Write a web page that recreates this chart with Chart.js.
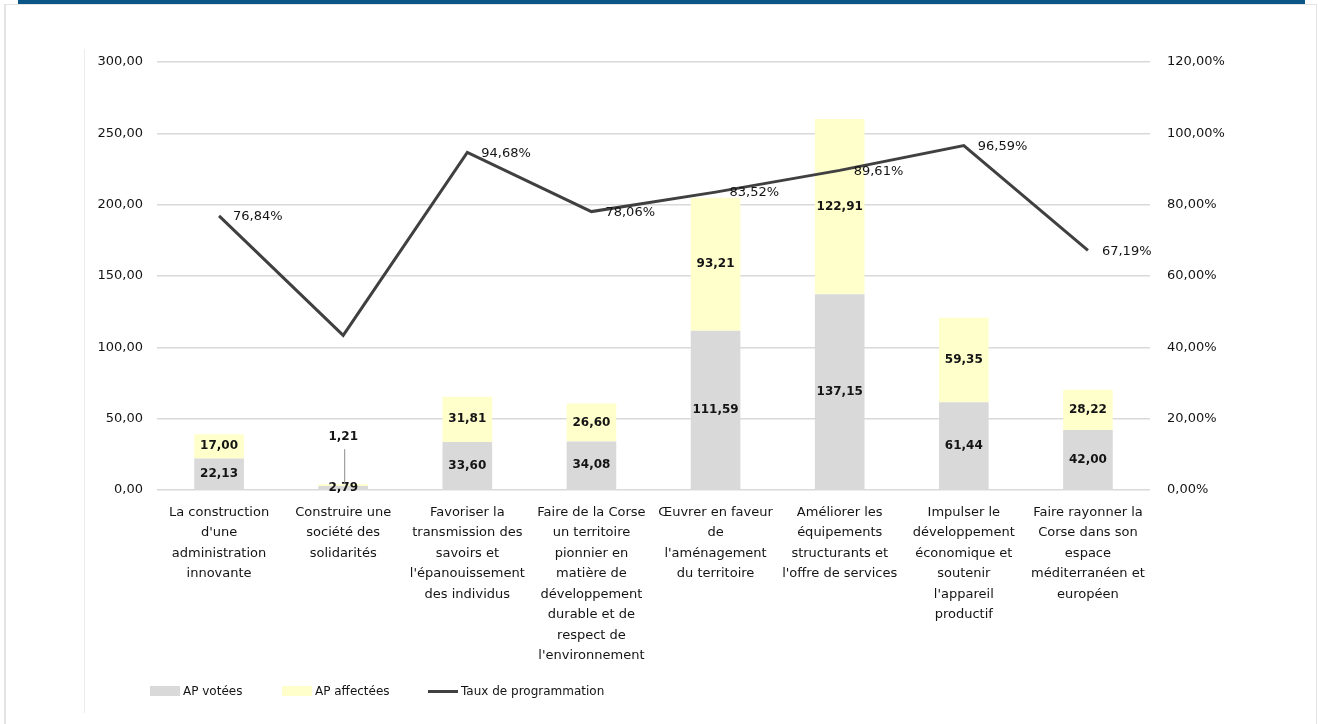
<!DOCTYPE html>
<html lang="fr">
<head>
<meta charset="utf-8">
<title>AP votées, AP affectées et taux de programmation</title>
<script src="https://cdn.jsdelivr.net/npm/chart.js@4.4.1/dist/chart.umd.min.js"></script>
<style>
  html, body { margin: 0; padding: 0; background: #fff; }
  #page { position: relative; width: 1318px; height: 724px; overflow: hidden; font-family: "DejaVu Sans", sans-serif; }
  #topbar { position: absolute; left: 18px; top: 0; width: 1287px; height: 4px; background: #0b5687; }
  #frame { position: absolute; left: 4px; top: 4px; width: 1313px; height: 740px; border: 1px solid #e4e4e4; border-left-width: 2px; box-sizing: border-box; }
  #innerline { position: absolute; left: 84px; top: 49px; width: 1px; height: 664px; background: #ececec; }
  #chart-box { position: absolute; left: 0; top: 0; width: 1318px; height: 724px; }
  #legend { position: absolute; left: 150px; top: 684px; height: 14px; font-size: 12px; color: #141414; }
  .item { position: absolute; top: 0; display: flex; align-items: center; white-space: nowrap; }
  .swatch { width: 30px; height: 10px; margin-right: 3px; }
  .swatch.line { height: 3px; }
</style>
</head>
<body>
<div id="page">
  <div id="topbar"></div>
  <div id="frame"></div>
  <div id="innerline"></div>
  <div id="chart-box"><canvas id="chart"></canvas></div>
  <div id="legend"></div>
</div>
<script>
// Données (M€)
const categories = [
  ["La construction", "d'une", "administration", "innovante"],
  ["Construire une", "société des", "solidarités"],
  ["Favoriser la", "transmission des", "savoirs et", "l'épanouissement", "des individus"],
  ["Faire de la Corse", "un territoire", "pionnier en", "matière de", "développement", "durable et de", "respect de", "l'environnement"],
  ["Œuvrer en faveur", "de", "l'aménagement", "du territoire"],
  ["Améliorer les", "équipements", "structurants et", "l'offre de services"],
  ["Impulser le", "développement", "économique et", "soutenir", "l'appareil", "productif"],
  ["Faire rayonner la", "Corse dans son", "espace", "méditerranéen et", "européen"]
];
const apVotees = [22.13, 2.79, 33.60, 34.08, 111.59, 137.15, 61.44, 42.00];
const apAffectees = [17.00, 1.21, 31.81, 26.60, 93.21, 122.91, 59.35, 28.22];
const tauxProgrammation = [76.84, 43.37, 94.68, 78.06, 83.52, 89.61, 96.59, 67.19];
const tauxEtiquette = [true, false, true, true, true, true, true, true];
const seriesNames = ["AP votées", "AP affectées", "Taux de programmation"];
const seriesColors = ["#d9d9d9", "#ffffcc", "#404040"];

const fmt = v => v.toFixed(2).replace(".", ",");
const textColor = "#141414";
const tickFont = { family: "DejaVu Sans", size: 13 };

// étiquettes de valeurs
const valueLabels = {
  id: "valueLabels",
  afterDatasetsDraw(chart) {
    const ctx = chart.ctx;
    ctx.save();
    ctx.textBaseline = "middle";
    ctx.textAlign = "center";
    ctx.fillStyle = textColor;
    ctx.font = 'bold 12px "DejaVu Sans"';
    [0, 1].forEach(di => {
      const meta = chart.getDatasetMeta(di);
      meta.data.forEach((bar, i) => {
        const v = chart.data.datasets[di].data[i];
        let y = (bar.y + bar.base) / 2;
        if (di === 1 && Math.abs(bar.base - bar.y) < 10) {
          // trop petit : étiquette au-dessus, avec trait de rappel
          const ly = y - 48;
          ctx.strokeStyle = "#8c8c8c";
          ctx.lineWidth = 1;
          ctx.beginPath();
          ctx.moveTo(bar.x + 1.5, ly + 12);
          ctx.lineTo(bar.x + 1.5, bar.y);
          ctx.stroke();
          y = ly;
        }
        ctx.fillText(fmt(v), bar.x, y);
      });
    });
    ctx.font = '13px "DejaVu Sans"';
    ctx.textAlign = "left";
    const lineMeta = chart.getDatasetMeta(2);
    lineMeta.data.forEach((pt, i) => {
      if (!tauxEtiquette[i]) return;
      ctx.fillText(fmt(tauxProgrammation[i]) + "%", pt.x + 14, pt.y + 1);
    });
    ctx.restore();
  }
};

new Chart(document.getElementById("chart"), {
  type: "bar",
  data: {
    labels: categories,
    datasets: [
      { label: seriesNames[0], data: apVotees, backgroundColor: seriesColors[0], yAxisID: "y",
        barPercentage: 0.4, categoryPercentage: 1, order: 1 },
      { label: seriesNames[1], data: apAffectees, backgroundColor: seriesColors[1], yAxisID: "y",
        barPercentage: 0.4, categoryPercentage: 1, order: 1 },
      { type: "line", label: seriesNames[2], data: tauxProgrammation, yAxisID: "y1",
        borderColor: seriesColors[2], borderWidth: 3, pointRadius: 0, tension: 0, fill: false, order: 0 }
    ]
  },
  options: {
    responsive: true,
    maintainAspectRatio: false,
    animation: false,
    layout: { padding: { left: 80, right: 68, top: 62, bottom: 0 } },
    plugins: { legend: { display: false }, tooltip: { enabled: false } },
    scales: {
      x: {
        stacked: true,
        grid: { display: false, drawTicks: false },
        border: { display: false },
        ticks: { font: { ...tickFont, lineHeight: "20.5px" }, color: textColor, padding: 12, maxRotation: 0, autoSkip: false },
        afterFit(s) { s.height = 234; }
      },
      y: {
        stacked: true,
        min: 0, max: 300,
        grid: { color: "#d9d9d9", lineWidth: 1.5, drawTicks: false },
        border: { display: false },
        ticks: { stepSize: 50, padding: 14, font: tickFont, color: textColor, callback: v => fmt(v) },
        afterFit(s) { s.width = 77; }
      },
      y1: {
        position: "right",
        min: 0, max: 120,
        grid: { display: false, drawTicks: false },
        border: { display: false },
        ticks: { stepSize: 20, padding: 17, font: tickFont, color: textColor, callback: v => fmt(v) + "%" },
        afterFit(s) { s.width = 100; }
      }
    }
  },
  plugins: [valueLabels]
});

// légende
const legendOffsets = [0, 132, 278];
const legend = document.getElementById("legend");
seriesNames.forEach((name, i) => {
  const item = document.createElement("div");
  item.className = "item";
  item.style.left = legendOffsets[i] + "px";
  const sw = document.createElement("span");
  sw.className = "swatch" + (i === 2 ? " line" : "");
  sw.style.background = seriesColors[i];
  const tx = document.createElement("span");
  tx.textContent = name;
  item.appendChild(sw);
  item.appendChild(tx);
  legend.appendChild(item);
});
</script>
</body>
</html>
